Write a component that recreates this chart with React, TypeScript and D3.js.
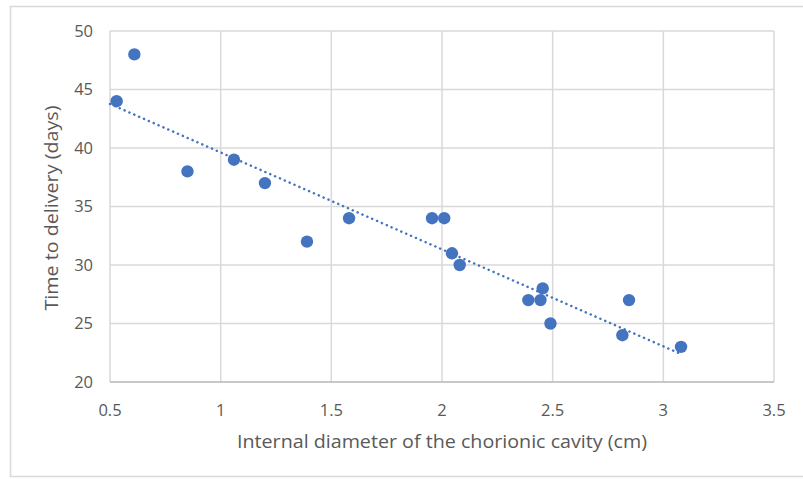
import React from "react";
import * as d3 from "d3";

const diameterCm = [0.53, 0.61, 0.85, 1.06, 1.2, 1.39, 1.58, 1.955, 2.01, 2.045, 2.08, 2.39, 2.445, 2.455, 2.49, 2.815, 2.845, 3.08];
const daysToDelivery = [44, 48, 38, 39, 37, 32, 34, 34, 34, 31, 30, 27, 27, 28, 25, 24, 27, 23];
const xTicks = [0.5, 1, 1.5, 2, 2.5, 3, 3.5];
const yTicks = [20, 25, 30, 35, 40, 45, 50];
const xTitle = "Internal diameter of the chorionic cavity (cm)";
const yTitle = "Time to delivery (days)";

const W = 803, H = 479;
const L = 110, R = 774, T = 31, B = 382;
const BLUE = "#4474bf";
const GRID = "#d9d9d9";
const TXT = "#595959";
const FONT = "'Open Sans', 'Noto Sans', sans-serif";

export default function App() {
  const x = d3.scaleLinear().domain([0.5, 3.5]).range([L, R]);
  const y = d3.scaleLinear().domain([20, 50]).range([B, T]);

  const n = diameterCm.length;
  const mx = d3.mean(diameterCm)!;
  const my = d3.mean(daysToDelivery)!;
  let sxy = 0, sxx = 0;
  for (let i = 0; i < n; i++) {
    sxy += (diameterCm[i] - mx) * (daysToDelivery[i] - my);
    sxx += (diameterCm[i] - mx) ** 2;
  }
  const slope = sxy / sxx;
  const icpt = my - slope * mx;
  const x0 = 0.5, x1 = d3.max(diameterCm)!;
  const trend = d3.line<number>().x((d) => x(d)).y((d) => y(icpt + slope * d))([x0, x1]);

  return (
    <svg width={W} height={H} style={{ position: "absolute", left: 0, top: 0 }}>
      <rect x={0} y={0} width={W} height={H} fill="#fff" />
      <rect x={10.5} y={6.5} width={W} height={470} fill="#fff" stroke="#d9d9d9" strokeWidth={1.5} />
      {xTicks.map((t) => (
        <line key={"gx" + t} x1={x(t)} x2={x(t)} y1={T} y2={B} stroke={GRID} strokeWidth={1.5} />
      ))}
      {yTicks.map((t) => (
        <line key={"gy" + t} x1={L} x2={R} y1={y(t)} y2={y(t)} stroke={GRID} strokeWidth={1.5} />
      ))}
      <line x1={L} x2={R} y1={B} y2={B} stroke="#bfbfbf" strokeWidth={1.5} />
      {yTicks.map((t) => (
        <text key={"ty" + t} x={93} y={y(t)} dy="0.35em" textAnchor="end" fontFamily={FONT} fontSize={16.5} fill={TXT}>
          {t}
        </text>
      ))}
      {xTicks.map((t) => (
        <text key={"tx" + t} x={x(t)} y={410} dy="0.35em" textAnchor="middle" fontFamily={FONT} fontSize={16.5} fill={TXT}>
          {t}
        </text>
      ))}
      <text x={442} y={442} dy="0.35em" textAnchor="middle" fontFamily={FONT} fontSize={18} fill={TXT} textLength={410} lengthAdjust="spacingAndGlyphs">
        {xTitle}
      </text>
      <text transform={`translate(52,${208}) rotate(-90)`} dy="0.35em" textAnchor="middle" fontFamily={FONT} fontSize={18} fill={TXT} textLength={205} lengthAdjust="spacingAndGlyphs">
        {yTitle}
      </text>
      <path d={trend ?? ""} fill="none" stroke={BLUE} strokeWidth={2.5} strokeDasharray="0.1 5.2" strokeLinecap="round" />
      {diameterCm.map((d, i) => (
        <circle key={i} cx={x(d)} cy={y(daysToDelivery[i])} r={6.2} fill={BLUE} />
      ))}
    </svg>
  );
}
